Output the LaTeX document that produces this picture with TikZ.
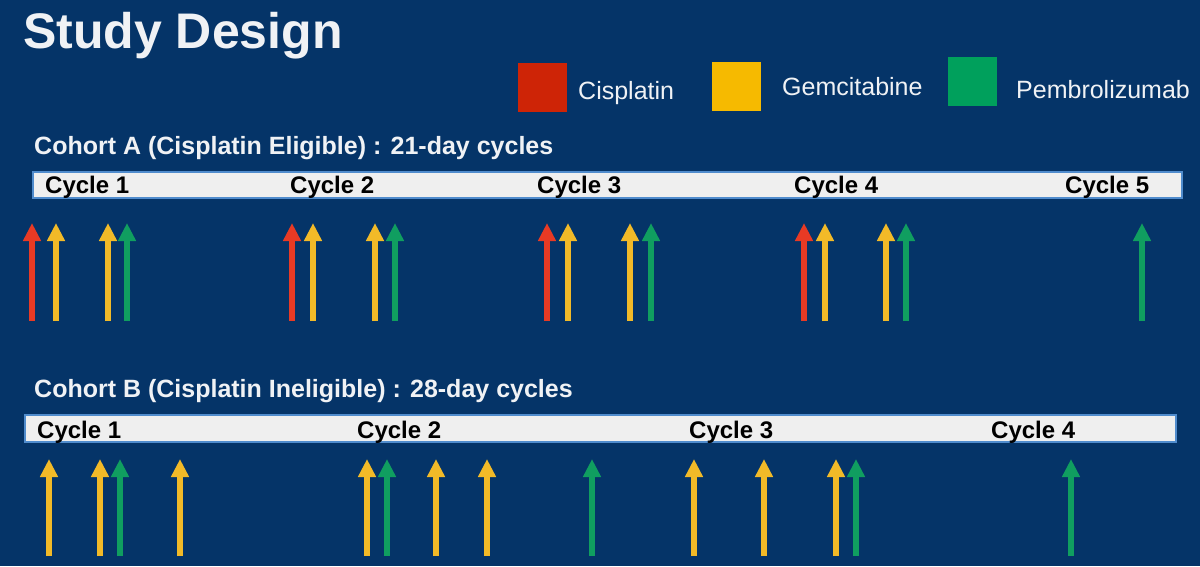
\documentclass[tikz,border=0pt]{standalone}
\usepackage{fontspec}
\setmainfont{Liberation Sans}
\usepackage{xcolor}
\usetikzlibrary{arrows.meta}

\definecolor{bgblue}{RGB}{5,52,104}
\definecolor{paleText}{RGB}{240,242,245}
\definecolor{barFill}{RGB}{239,239,239}
\definecolor{barLine}{RGB}{80,140,205}
\definecolor{cisRed}{RGB}{232,58,36}
\definecolor{gemYellow}{RGB}{242,186,40}
\definecolor{pemGreen}{RGB}{16,158,96}
\definecolor{keyRed}{RGB}{206,36,6}
\definecolor{keyYellow}{RGB}{246,186,0}
\definecolor{keyGreen}{RGB}{0,160,92}

\begin{document}
\begin{tikzpicture}[x=1pt, y=-1pt,
  dose/.style={line width=5.5pt, -{Triangle[length=18pt, width=17pt]}},
  cis/.style={dose, draw=cisRed},
  gem/.style={dose, draw=gemYellow},
  pem/.style={dose, draw=pemGreen},
  cyclebar/.style={fill=barFill, draw=barLine, line width=1.5pt},
  cyclelbl/.style={anchor=base west, inner sep=0pt, text=black, font=\fontsize{24}{28}\selectfont\bfseries},
  heading/.style={anchor=base west, inner sep=0pt, text=paleText, font=\fontsize{25}{30}\selectfont\bfseries},
  keytxt/.style={anchor=base west, inner sep=0pt, text=paleText, font=\fontsize{25}{30}\selectfont}]

  % Slide background
  \fill[bgblue] (0,0) rectangle (1200,566);
  \useasboundingbox (0,0) rectangle (1200,566);

  % Title
  \node[anchor=base west, inner sep=0pt, text=paleText, font=\fontsize{50}{60}\selectfont\bfseries]
    (title) at (23,48) {Study Design};

  % Legend
  \fill[keyRed] (518,63) rectangle (567,112);
  \node[keytxt] (keycis) at (578,99) {Cisplatin};
  \fill[keyYellow] (712,62) rectangle (761,111);
  \node[keytxt] (keygem) at (782,95) {Gemcitabine};
  \fill[keyGreen] (948,57) rectangle (997,106);
  \node[keytxt] (keypem) at (1016,98) {Pembrolizumab};

  % Cohort A (21-day cycles)
  \node[heading] (cohortA) at (34,154) {Cohort A (Cisplatin Eligible) : 21-day cycles};
  \draw[cyclebar] (33,172) rectangle (1182,198);
  \node[cyclelbl] (a1) at (45,193) {Cycle 1};
  \node[cyclelbl] (a2) at (290,193) {Cycle 2};
  \node[cyclelbl] (a3) at (537,193) {Cycle 3};
  \node[cyclelbl] (a4) at (794,193) {Cycle 4};
  \node[cyclelbl] (a5) at (1065,193) {Cycle 5};

  % doses, cycle 1
  \draw[cis] (32,321) -- (32,223);
  \draw[gem] (56,321) -- (56,223);
  \draw[gem] (108,321) -- (108,223);
  \draw[pem] (127,321) -- (127,223);
  % doses, cycle 2
  \draw[cis] (292,321) -- (292,223);
  \draw[gem] (313,321) -- (313,223);
  \draw[gem] (375,321) -- (375,223);
  \draw[pem] (395,321) -- (395,223);
  % doses, cycle 3
  \draw[cis] (547,321) -- (547,223);
  \draw[gem] (568,321) -- (568,223);
  \draw[gem] (630,321) -- (630,223);
  \draw[pem] (651,321) -- (651,223);
  % doses, cycle 4
  \draw[cis] (804,321) -- (804,223);
  \draw[gem] (825,321) -- (825,223);
  \draw[gem] (886,321) -- (886,223);
  \draw[pem] (906,321) -- (906,223);
  % doses, cycle 5
  \draw[pem] (1142,321) -- (1142,223);

  % Cohort B (28-day cycles)
  \node[heading] (cohortB) at (34,397) {Cohort B (Cisplatin Ineligible) : 28-day cycles};
  \draw[cyclebar] (25,415) rectangle (1176,442);
  \node[cyclelbl] (b1) at (37,438) {Cycle 1};
  \node[cyclelbl] (b2) at (357,438) {Cycle 2};
  \node[cyclelbl] (b3) at (689,438) {Cycle 3};
  \node[cyclelbl] (b4) at (991,438) {Cycle 4};

  % doses, cycle 1
  \draw[gem] (49,556) -- (49,459);
  \draw[gem] (100,556) -- (100,459);
  \draw[pem] (120,556) -- (120,459);
  \draw[gem] (180,556) -- (180,459);
  % doses, cycle 2
  \draw[gem] (367,556) -- (367,459);
  \draw[pem] (387,556) -- (387,459);
  \draw[gem] (436,556) -- (436,459);
  \draw[gem] (487,556) -- (487,459);
  \draw[pem] (592,556) -- (592,459);
  % doses, cycle 3
  \draw[gem] (694,556) -- (694,459);
  \draw[gem] (764,556) -- (764,459);
  \draw[gem] (836,556) -- (836,459);
  \draw[pem] (856,556) -- (856,459);
  % doses, cycle 4
  \draw[pem] (1071,556) -- (1071,459);

\end{tikzpicture}
\end{document}
